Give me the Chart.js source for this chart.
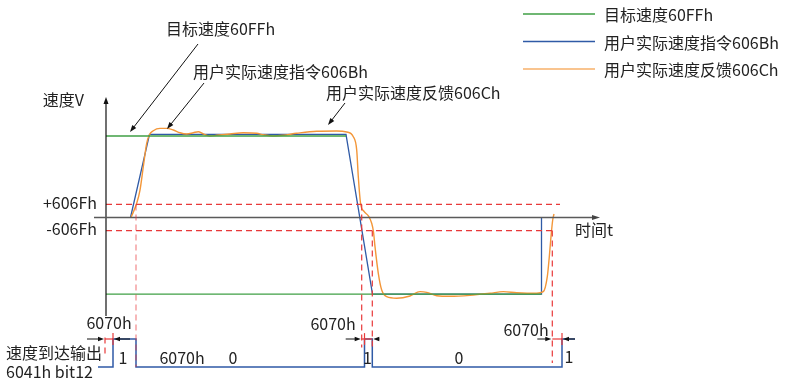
<!DOCTYPE html>
<html lang="zh">
<head>
<meta charset="UTF-8">
<title>速度到达</title>
<script src="https://cdn.jsdelivr.net/npm/chart.js"></script>
<style>
  html, body { margin: 0; padding: 0; background: #fff; }
  #wrap { width: 785px; height: 381px; }
</style>
</head>
<body>
<div id="wrap"><canvas id="c" width="785" height="381"></canvas></div>
<script>
// ---- data (t: time units, v: speed units, s: digital level) ----
const targetEndT = [48.0, 87.1];
const targetV = [100, -94];

const cmdT = [4.9, 8.7, 48.0, 53.3, 87.1, 87.1];
const cmdV = [0, 102, 102, -94, -94, 0];

const fbT = [5.0, 6.14, 6.8, 7.46, 8.14, 8.66, 9.46, 10.8, 12.14, 13.46, 14.8, 16.14, 17.46, 18.46,
  19.46, 20.8, 22.14, 24.8, 27.46, 30.14, 31.46, 33.46, 35.46, 38.14, 42.14, 46.14, 48.14, 49.46,
  50.14, 50.46, 50.9, 51.6, 52.5, 53.14, 53.5, 53.8, 54.46, 55.14, 56.14, 58.14, 60.8, 62.8, 64.14,
  66.14, 68.8, 72.8, 76.8, 79.46, 82.14, 86.14, 87.46, 88.26, 88.66, 88.94, 89.34, 89.6];
const fbV = [0, 17.4, 33.7, 62.3, 91.0, 101.2, 106.5, 109.4, 109.4, 107.4, 104.0, 102.5, 104.0, 105.3,
  102.5, 100.0, 100.9, 102.5, 104.0, 103.3, 101.6, 100.0, 100.9, 103.3, 105.8, 106.1, 104.9, 99.1,
  82.8, 50.1, 17.8, 7.4, 1.8, -7.1, -17.8, -35.8, -68.5, -89.0, -97.2, -99.1, -96.3, -91.0, -91.8,
  -96.0, -96.7, -95.5, -93.0, -91.0, -92.3, -93.0, -91.0, -72.6, -48.1, -27.6, -3.1, 4.3];

const thresholdV = [16, -16];
const thresholdEndT = [90.8, 89.4];

const sigT = [-1.6, 1.4, 1.4, 6.0, 6.0, 51.7, 51.7, 53.26, 53.26, 91.2, 91.2, 93.8];
const sigV = [0, 0, 1, 1, 0, 0, 1, 1, 0, 0, 1, 1];

// dashed edge markers: time, start speed, end level on the digital trace
const edgeT = [6.0, 51.14, 53.26, 89.26];
const edgeFromV = [16, 16, -16, -16];
const edgeToS = [0, 0.7, 0.7, 0.14];

// 6070h windows
const winStartT = [-0.2, 51.14, 89.26];
const winEndT = [1.4, 53.26, 91.2];
const winTickT = [1.4, 51.7, 91.2];

const legendLabels = ['目标速度60FFh', '用户实际速度指令606Bh', '用户实际速度反馈606Ch'];

// ---- layout ----
const W = 785, H = 381;
const ORIGIN_X = 106, ORIGIN_Y = 217.5, PX_T = 5, PX_V = 0.815;
const SIG_Y0 = 367, PX_S = 28;
const FONT = '16px "Noto Sans CJK SC", "Noto Sans", sans-serif';
const GREEN = '#3f9f45', BLUE = '#2f5aa6', ORANGE = '#f39638', RED = '#e8393a', TXT = '#222';

const pts = (xs, ys) => xs.map((x, i) => ({ x: x, y: ys[i] }));

function lineDs(data, color, extra) {
  return Object.assign({ data: data, borderColor: color, borderWidth: 1.3, pointRadius: 0,
    tension: 0, fill: false, clip: false }, extra || {});
}

const datasets = [];
targetV.forEach((v, i) => datasets.push(lineDs(pts([0, targetEndT[i]], [v, v]), GREEN)));
thresholdV.forEach((v, i) => datasets.push(lineDs(pts([0, thresholdEndT[i]], [v, v]), RED,
  { borderDash: [6, 4], borderWidth: 1.2 })));
datasets.push(lineDs(pts(fbT, fbV), ORANGE, { cubicInterpolationMode: 'monotone', borderWidth: 1.4 }));
datasets.push(lineDs(pts(cmdT, cmdV), BLUE));
datasets.push(lineDs(pts(sigT, sigV), BLUE, { yAxisID: 'ys', borderWidth: 1.5 }));

function arrow(ctx, x1, y1, x2, y2, len, half) {
  const a = Math.atan2(y2 - y1, x2 - x1);
  ctx.beginPath(); ctx.moveTo(x1, y1); ctx.lineTo(x2 - Math.cos(a) * len * 0.6, y2 - Math.sin(a) * len * 0.6); ctx.stroke();
  ctx.beginPath();
  ctx.moveTo(x2, y2);
  ctx.lineTo(x2 - len * Math.cos(a) + half * Math.sin(a), y2 - len * Math.sin(a) - half * Math.cos(a));
  ctx.lineTo(x2 - len * Math.cos(a) - half * Math.sin(a), y2 - len * Math.sin(a) + half * Math.cos(a));
  ctx.closePath(); ctx.fill();
}

function text(ctx, str, x, y, align) {
  ctx.textAlign = align || 'left';
  ctx.fillText(str, x, y);
}

const decor = {
  id: 'decor',
  afterDatasetsDraw(chart) {
    const ctx = chart.ctx;
    const sx = chart.scales.x, sy = chart.scales.y, ss = chart.scales.ys;
    const X = t => sx.getPixelForValue(t);
    const Y = v => sy.getPixelForValue(v);
    const S = s => ss.getPixelForValue(s);
    ctx.save();
    ctx.font = FONT;
    ctx.textBaseline = 'middle';

    // axes
    ctx.strokeStyle = '#111'; ctx.fillStyle = '#111'; ctx.lineWidth = 1.2;
    arrow(ctx, X(0), Y(-121), X(0), Y(148), 7, 2.5);
    ctx.strokeStyle = '#5a5a5a'; ctx.fillStyle = '#444'; ctx.lineWidth = 1.6;
    arrow(ctx, X(-2.4), Y(0), X(98.8), Y(0), 8, 2.5);

    ctx.fillStyle = TXT;
    text(ctx, '速度V', X(0) - 22, Y(144), 'right');
    text(ctx, '时间t', X(93.8), Y(0) + 12);
    text(ctx, '+606Fh', X(0) - 9, Y(thresholdV[0]) - 2, 'right');
    text(ctx, '-606Fh', X(0) - 9, Y(thresholdV[1]) - 2, 'right');

    // dashed edge markers
    ctx.strokeStyle = RED; ctx.lineWidth = 1.2; ctx.setLineDash([6, 4]);
    edgeT.forEach((t, i) => {
      ctx.globalAlpha = i === 0 ? 0.6 : 1;
      ctx.beginPath(); ctx.moveTo(X(t), Y(edgeFromV[i])); ctx.lineTo(X(t), S(edgeToS[i])); ctx.stroke();
    });
    ctx.globalAlpha = 1;
    ctx.beginPath(); ctx.moveTo(X(winStartT[0]), S(1.05)); ctx.lineTo(X(winStartT[0]), S(0.4)); ctx.stroke();
    ctx.setLineDash([]);

    // 6070h windows
    const leftLen = [17, 15, 14], rightLen = [16, 6, 12];
    winStartT.forEach((t0, i) => {
      const y = S(1), a = X(t0), b = X(winEndT[i]);
      ctx.strokeStyle = RED; ctx.lineWidth = 1.2;
      ctx.beginPath(); ctx.moveTo(a, y); ctx.lineTo(b, y); ctx.stroke();
      ctx.beginPath(); ctx.moveTo(X(winTickT[i]), S(1.21)); ctx.lineTo(X(winTickT[i]), S(0.79)); ctx.stroke();
      ctx.strokeStyle = '#111'; ctx.fillStyle = '#111'; ctx.lineWidth = 1;
      arrow(ctx, a - leftLen[i] - 1, y, a - 1, y, 6, 2.2);
      arrow(ctx, b + rightLen[i] + 1, y, b + 1, y, 6, 2.2);
    });

    // digital trace labels
    ctx.fillStyle = TXT;
    text(ctx, '6070h', X(0.6), S(1.57), 'center');
    text(ctx, '6070h', X(45.4), S(1.53), 'center');
    text(ctx, '6070h', X(84.0), S(1.32), 'center');
    text(ctx, '1', X(3.4), S(0.32), 'center');
    text(ctx, '6070h', X(15.2), S(0.32), 'center');
    text(ctx, '0', X(25.4), S(0.32), 'center');
    text(ctx, '1', X(52.3), S(0.32), 'center');
    text(ctx, '0', X(70.6), S(0.32), 'center');
    text(ctx, '1', X(92.6), S(0.36), 'center');
    text(ctx, '速度到达输出', 6, S(0.5));
    text(ctx, '6041h bit12', 6, S(-0.18));

    // callouts
    const notes = [
      { str: legendLabels[0], t: 12.0, v: 231.3, from: [18.4, 212.9], to: [4.8, 104.9] },
      { str: legendLabels[1], t: 17.4, v: 178.5, from: [19.6, 165.0], to: [12.2, 108.6] },
      { str: legendLabels[2], t: 44.0, v: 152.8, from: [47.8, 140.5], to: [44.4, 113.5] }
    ];
    notes.forEach(n => {
      ctx.fillStyle = TXT;
      text(ctx, n.str, X(n.t), Y(n.v));
      ctx.strokeStyle = '#111'; ctx.fillStyle = '#111'; ctx.lineWidth = 1;
      arrow(ctx, X(n.from[0]), Y(n.from[1]), X(n.to[0]), Y(n.to[1]), 7, 2.5);
    });

    // legend
    [GREEN, BLUE, '#f7b06a'].forEach((c, i) => {
      const y = 14 + i * 27.5;
      ctx.strokeStyle = c; ctx.lineWidth = 1.3;
      ctx.beginPath(); ctx.moveTo(523, y); ctx.lineTo(595, y); ctx.stroke();
      ctx.fillStyle = TXT;
      text(ctx, legendLabels[i], 604, y + 1);
    });
    ctx.restore();
  }
};

new Chart(document.getElementById('c'), {
  type: 'line',
  data: { datasets: datasets },
  options: {
    responsive: false,
    animation: false,
    events: [],
    layout: { padding: 0 },
    plugins: { legend: { display: false }, tooltip: { enabled: false } },
    scales: {
      x: { type: 'linear', display: false, min: -ORIGIN_X / PX_T, max: (W - ORIGIN_X) / PX_T },
      y: { type: 'linear', display: false, min: -(H - ORIGIN_Y) / PX_V, max: ORIGIN_Y / PX_V },
      ys: { type: 'linear', display: false, min: -(H - SIG_Y0) / PX_S, max: SIG_Y0 / PX_S }
    }
  },
  plugins: [decor]
});
</script>
</body>
</html>
